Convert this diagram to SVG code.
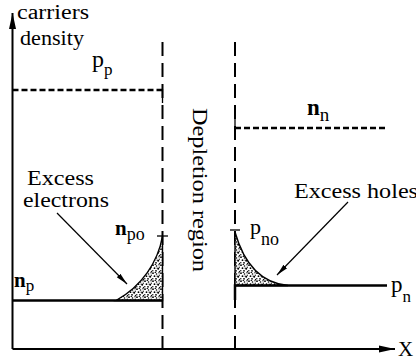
<svg xmlns="http://www.w3.org/2000/svg" width="416" height="363" viewBox="0 0 416 363">
<style>
  text { font-family: "Liberation Serif", "DejaVu Serif", serif; fill: #000; }
  .b { font-weight: bold; }
  .axis { stroke: #000; stroke-width: 2; fill: none; }
  .vdash { stroke: #000; stroke-width: 2; stroke-dasharray: 14 7; fill: none; }
  .hdash { stroke: #000; stroke-width: 2.4; stroke-dasharray: 6 3; fill: none; }
  .solid { stroke: #000; stroke-width: 2.5; fill: none; }
  .thin { stroke: #000; stroke-width: 1.3; fill: none; }
  .lead { stroke: #000; stroke-width: 1.2; fill: none; }
  .shade { fill: url(#stipple); stroke: #000; stroke-width: 1.4; }
</style>
<defs>
  <marker id="ah" viewBox="0 0 12 6" refX="12" refY="3" markerWidth="12" markerHeight="6" markerUnits="userSpaceOnUse" orient="auto">
    <path d="M0,0.5 L12,3 L0,5.5 Z" fill="#000"/>
  </marker>
  <marker id="axh" viewBox="0 0 16 8" refX="16" refY="4" markerWidth="16" markerHeight="8" markerUnits="userSpaceOnUse" orient="auto">
    <path d="M0,0.5 L16,4 L0,7.5 Z" fill="#000"/>
  </marker>
  <pattern id="stipple" patternUnits="userSpaceOnUse" width="8" height="8">
    <rect width="8" height="8" fill="#fff"/>
    <circle cx="1" cy="1.2" r="0.9" fill="#000"/>
    <circle cx="4.5" cy="2" r="0.8" fill="#000"/>
    <circle cx="7" cy="0.8" r="0.7" fill="#000"/>
    <circle cx="2.5" cy="4.2" r="0.9" fill="#000"/>
    <circle cx="6.2" cy="4.8" r="1" fill="#000"/>
    <circle cx="0.8" cy="6.8" r="0.7" fill="#000"/>
    <circle cx="4" cy="6.8" r="0.9" fill="#000"/>
    <circle cx="7.4" cy="7.4" r="0.6" fill="#000"/>
    <rect x="2.6" y="0" width="1.5" height="0.9" fill="#000"/>
    <rect x="6.8" y="2.6" width="0.9" height="1.5" fill="#000"/>
    <rect x="4.6" y="3.6" width="1" height="1" fill="#000"/>
  </pattern>
</defs>

<g id="axes">
  <line class="axis" x1="12.5" y1="349" x2="12.5" y2="13" marker-end="url(#axh)"/>
  <line class="axis" x1="12.5" y1="349" x2="395" y2="349" marker-end="url(#axh)"/>
  <text x="17" y="19" font-size="20" textLength="72" lengthAdjust="spacingAndGlyphs">carriers</text>
  <text x="20" y="45" font-size="20" textLength="64" lengthAdjust="spacingAndGlyphs">density</text>
  <text x="398" y="356" font-size="21">X</text>
</g>

<g id="depletion-boundaries">
  <line class="vdash" x1="162.5" y1="42" x2="162.5" y2="349"/>
  <line class="vdash" x1="235" y1="42" x2="235" y2="349"/>
  <text transform="translate(193,190) rotate(90)" text-anchor="middle" font-size="22" textLength="164" lengthAdjust="spacingAndGlyphs">Depletion region</text>
</g>

<g id="pp-level">
  <path class="hdash" d="M12.5,90 H162.5"/>
  <path class="thin" d="M162.5,89 V103"/>
  <text x="92" y="67" font-size="24">p<tspan font-size="17" dy="8">p</tspan></text>
</g>

<g id="nn-level">
  <path class="hdash" d="M235,128 H388"/>
  <path class="thin" d="M235,114 V129"/>
  <text x="307" y="115" class="b" font-size="23">n<tspan font-size="19" font-weight="normal" dy="6">n</tspan></text>
</g>

<g id="excess-electrons">
  <path class="shade" d="M162.5,236 C158,262 142,286 116,300.5 L162.5,300.5 Z"/>
  <line class="thin" x1="157" y1="236" x2="168" y2="236"/>
  <text x="115" y="235" class="b" font-size="21">n<tspan font-size="18" font-weight="normal" dy="5">po</tspan></text>
  <text x="27" y="185" font-size="21" textLength="67" lengthAdjust="spacingAndGlyphs">Excess</text>
  <text x="23" y="207" font-size="21" textLength="86" lengthAdjust="spacingAndGlyphs">electrons</text>
</g>

<g id="excess-holes">
  <path class="shade" d="M235,232 C244,264 261,283 288,285.5 L235,285.5 Z"/>
  <line class="thin" x1="230" y1="230" x2="240" y2="230"/>
  <text x="250" y="234" font-size="22">p<tspan font-size="18" dy="11">no</tspan></text>
  <text x="294" y="198" font-size="21" textLength="124" lengthAdjust="spacingAndGlyphs">Excess holes</text>
</g>

<g id="np-level">
  <path class="solid" d="M12.5,300.5 H162.5"/>
  <text x="14" y="287" class="b" font-size="21">n<tspan font-size="17" font-weight="normal" dy="4">p</tspan></text>
</g>

<g id="pn-level">
  <path class="solid" d="M235,300 V285.5 H387"/>
  <text x="391" y="292" font-size="23">p<tspan font-size="17" dy="10">n</tspan></text>
</g>

<g id="connectors">
  <line class="lead" x1="57" y1="213" x2="127" y2="284" marker-end="url(#ah)"/>
  <line class="lead" x1="348" y1="202" x2="277" y2="275" marker-end="url(#ah)"/>
</g>
</svg>
